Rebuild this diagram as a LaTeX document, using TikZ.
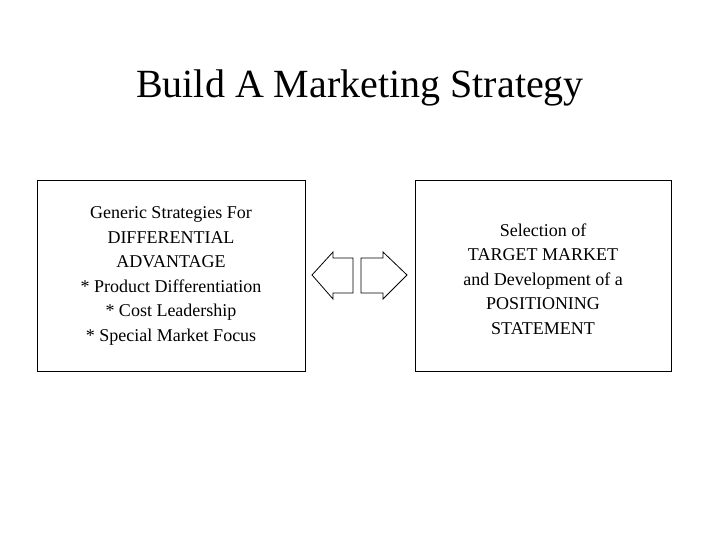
\documentclass[tikz,border=0pt]{standalone}
\usepackage{fontspec}
\setmainfont{Liberation Serif}
\begin{document}
\begin{tikzpicture}[x=1pt,y=-1pt,
  box/.style={draw,line width=0.8pt},
  txt/.style={align=center,font=\fontsize{18}{24.5}\selectfont},
  arr/.style={draw,line width=0.8pt,fill=white}]
\useasboundingbox (0,0) rectangle (720,540);
\node (title) at (360,88) {\fontsize{40}{48}\selectfont Build A Marketing Strategy};
\draw[box] (37,180) rectangle (305,371);
\draw[box] (415,180) rectangle (671,371);
\node[txt] (lt) at (171,276) {Generic Strategies For\\DIFFERENTIAL\\ADVANTAGE\\* Product Differentiation\\* Cost Leadership\\* Special Market Focus};
\node[txt] (rt) at (543,279) {Selection of\\TARGET MARKET\\and Development of a\\POSITIONING\\STATEMENT};
\draw[arr] (312,275) -- (333,252) -- (333,258) -- (353,258) -- (353,293) -- (333,293) -- (333,299) -- cycle;
\draw[arr] (407,275) -- (383,252) -- (383,258) -- (361,258) -- (361,293) -- (383,293) -- (383,299) -- cycle;
\end{tikzpicture}
\end{document}
